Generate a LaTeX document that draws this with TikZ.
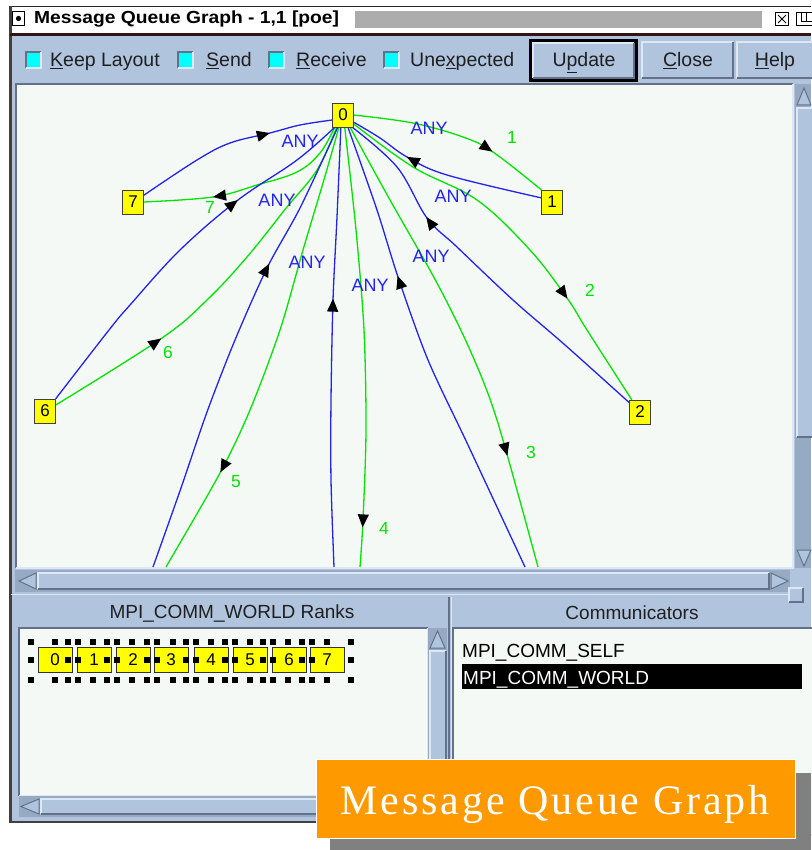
\documentclass[tikz,border=0pt]{standalone}
\usepackage{graphicx}
\usepackage{fontspec}
\setmainfont{Liberation Sans}
\newfontfamily\bannerfont[LetterSpace=7]{Liberation Serif}
\usetikzlibrary{arrows.meta,decorations.markings}

\definecolor{tbbg}{RGB}{176,196,222}
\definecolor{canvasbg}{RGB}{245,249,245}
\definecolor{edgeblue}{RGB}{35,35,235}
\definecolor{edgegreen}{RGB}{0,228,0}
\definecolor{rankyellow}{RGB}{255,255,0}
\definecolor{bevlight}{RGB}{222,232,244}
\definecolor{bevdark}{RGB}{98,114,136}
\definecolor{trough}{RGB}{150,170,196}
\definecolor{chkcyan}{RGB}{0,255,255}
\definecolor{titledark}{RGB}{50,20,20}
\definecolor{stipple}{RGB}{172,172,172}
\definecolor{bannerorange}{RGB}{255,153,0}
\definecolor{shadowgray}{RGB}{128,128,128}

\pgfdeclarelayer{chrome}
\pgfdeclarelayer{wires}
\pgfsetlayers{chrome,wires,main}

% raised and sunken Motif-style bevels: x1 y1 x2 y2
\newcommand\bevelraised[4]{%
  \fill[tbbg] (#1,#2) rectangle (#3,#4);
  \draw[bevlight,line width=1.6pt] (#1,#4) -- (#1,#2) -- (#3,#2);
  \draw[bevdark,line width=1.6pt] (#1,#4) -- (#3,#4) -- (#3,#2);
}
\newcommand\bevelsunken[4]{%
  \fill[canvasbg] (#1,#2) rectangle (#3,#4);
  \draw[bevdark,line width=2pt] (#1,#4) -- (#1,#2) -- (#3,#2);
  \draw[bevlight,line width=2pt] (#1,#4) -- (#3,#4) -- (#3,#2);
}

\begin{document}
\begin{tikzpicture}[x=1pt,y=-1pt,
  gnode/.style={draw=black!75, fill=rankyellow, minimum width=21pt, minimum height=24pt,
    inner sep=0pt, font=\fontsize{17}{17}\selectfont},
  rankbox/.style={draw=black!80, fill=rankyellow, minimum width=34pt, minimum height=25pt,
    inner sep=0pt, font=\fontsize{17}{17}\selectfont},
  anylab/.style={text=edgeblue, font=\fontsize{18}{18}\selectfont, inner sep=0pt},
  numlab/.style={text=edgegreen, font=\fontsize{17.5}{17.5}\selectfont, inner sep=0pt},
  bluedge/.style={draw=edgeblue, line width=1.3pt},
  greenedge/.style={draw=edgegreen, line width=1.3pt},
  midfwd/.style={postaction={decorate, decoration={markings, mark=at position #1 with
    {\arrow{Triangle[length=13pt,width=11pt,color=black]}}}}},
  midrev/.style={postaction={decorate, decoration={markings, mark=at position #1 with
    {\arrowreversed{Triangle[length=13pt,width=11pt,color=black]}}}}},
  tbtext/.style={font=\fontsize{19.5}{19.5}\selectfont, text=black!88, inner sep=0pt, anchor=base west},
  paneltitle/.style={font=\fontsize{19}{19}\selectfont, text=black!88, inner sep=0pt},
  listtext/.style={font=\fontsize{19}{19}\selectfont, text=black, inner sep=0pt, anchor=base west},
  handle/.style={fill=black}
]
\useasboundingbox (0,0) rectangle (811,850);

\begin{pgfonlayer}{chrome}
\fill[white] (0,0) rectangle (811,850);
% window body
\fill[tbbg] (10,36) rectangle (811,822);
% title bar
\draw[black!85, line width=1pt] (10,6.5) -- (811,6.5);
\fill[black!75] (9,6) rectangle (11.5,823);
\fill[titledark] (10,33.5) rectangle (811,36.5);
\draw[black, line width=1pt] (12.5,11.5) rectangle (24.5,25.5);
\fill[black] (18.5,18.5) circle (2.6pt);
\fill[stipple] (355,11) rectangle (762,28);
\draw[black, line width=0.9pt] (775.5,12.5) rectangle (788.5,25.5);
\draw[black, line width=0.9pt] (778,15) -- (786,23) (786,15) -- (778,23);
\draw[black, line width=0.9pt] (796.5,12.5) rectangle (815,25.5);
\draw[black, line width=0.9pt] (801,12.5) -- (801,21) -- (815,21) (806,12.5) -- (806,21);

% toolbar check boxes
\foreach \cx in {26,178,269,384}{
  \fill[chkcyan] (\cx,52) rectangle ++(15,16);
  \draw[bevdark,line width=1.5pt] (\cx,68) -- (\cx,52) -- (\cx+15,52);
  \draw[bevlight,line width=1.5pt] (\cx+15,52) -- (\cx+15,68) -- (\cx,68);
}
% buttons
\fill[black] (529,39) rectangle (638,82);
\bevelraised{533}{43}{634}{78}
\bevelraised{642}{42}{733}{78}
\bevelraised{737}{42}{822}{78}

% graph canvas
\bevelsunken{15.5}{84.5}{793}{568}
% vertical scrollbar
\fill[trough] (795,84) rectangle (811,568);
\bevelraised{797}{108}{813}{437}
\filldraw[fill=tbbg, draw=bevdark, line width=1pt] (797,105) -- (804,88) -- (811,105) -- cycle;
\filldraw[fill=tbbg, draw=bevdark, line width=1pt] (797,550) -- (811,550) -- (804,566) -- cycle;
% horizontal scrollbar
\fill[trough] (15,570) rectangle (790,592);
\filldraw[fill=tbbg, draw=bevdark, line width=1pt] (36,573) -- (19,581) -- (36,589) -- cycle;
\bevelraised{38}{573}{769}{589}
\filldraw[fill=tbbg, draw=bevdark, line width=1pt] (771,573) -- (788,581) -- (771,589) -- cycle;
\bevelraised{789}{588}{803}{602}

% lower panes
\draw[bevlight, line width=1pt] (11,594.5) -- (789,594.5);
\draw[bevdark, line width=1.5pt] (449,597) -- (449,822);
\draw[bevlight, line width=1.5pt] (451.5,597) -- (451.5,822);
% ranks list
\bevelsunken{19}{628}{428}{796}
\fill[trough] (428,628) rectangle (447,796);
\filldraw[fill=tbbg, draw=bevdark, line width=1pt] (430,648) -- (437.5,631) -- (445,648) -- cycle;
\bevelraised{430}{651}{446}{794}
\fill[trough] (19,796) rectangle (428,817);
\filldraw[fill=tbbg, draw=bevdark, line width=1pt] (39,799) -- (21,806.5) -- (39,814) -- cycle;
\bevelraised{41}{799}{421}{814}
\fill[black!75] (9,820.5) rectangle (340,823);
% communicators list
\bevelsunken{453}{628}{815}{835}
\fill[black] (462,664) rectangle (802,689);
\end{pgfonlayer}

% toolbar labels
\node[tbtext] (keep) at (50,67) {\underline{K}eep Layout};
\node[tbtext] (send) at (206,67) {\underline{S}end};
\node[tbtext] (recv) at (296,67) {\underline{R}eceive};
\node[tbtext] (unex) at (410,67) {Une\underline{x}pected};
\node[tbtext, anchor=base] (upd) at (584,67) {U\underline{p}date};
\node[tbtext, anchor=base] (cls) at (688,67) {\underline{C}lose};
\node[tbtext, anchor=base] (hlp) at (775,67) {\underline{H}elp};
\node[anchor=west, inner sep=0pt, font=\fontsize{17.5}{17.5}\selectfont\bfseries] (wtitle) at (34,19.5)
  {\scalebox{1.1}[1]{Message Queue Graph - 1,1 [poe]}};

% graph nodes
\node[gnode] (n0) at (343,115) {0};
\node[gnode] (n7) at (133,202) {7};
\node[gnode] (n1) at (552,202) {1};
\node[gnode] (n6) at (45,411) {6};
\node[gnode] (n2) at (640,412) {2};
\coordinate (b5end) at (153,567);
\coordinate (g5end) at (166,567);
\coordinate (b4end) at (334,567);
\coordinate (g4end) at (360,567);
\coordinate (b3end) at (525,567);
\coordinate (g3end) at (538,567);

\begin{pgfonlayer}{wires}
\begin{scope}
\clip (17,86) rectangle (792,567);
% receives (blue) and sends (green) between rank 0 and the others
\draw[bluedge, midrev=0.31] plot[smooth, tension=0.6] coordinates
  {(n0.205) (300,125) (270,133) (230,143) (197,160) (n7.32)};
\draw[greenedge, midfwd=0.68] plot[smooth, tension=0.6] coordinates
  {(n0.236) (320,153) (297,172) (257,185) (213,197) (n7.east)};
\draw[bluedge, midrev=0.31] plot[smooth, tension=0.6] coordinates
  {(n0.236) (297,160) (238,200) (180,250) (130,305) (109,330) (n6.north east)};
\draw[greenedge, midrev=0.69] plot[smooth, tension=0.6] coordinates
  {(n0.243) (317,170) (287,207) (247,257) (207,300) (162,338) (n6.29)};
\draw[bluedge, midrev=0.32] plot[smooth, tension=0.5] coordinates
  {(n0.247) (300,208) (267,268) (235,340) (207,412) (181,488) (b5end)};
\draw[greenedge, midfwd=0.77] plot[smooth, tension=0.5] coordinates
  {(n0.252) (323,183) (303,250) (280,330) (250,410) (220,473) (g5end)};
\draw[bluedge, midrev=0.39] plot[smooth, tension=0.5] coordinates
  {(n0.260) (337,217) (333,300) (331,400) (331,480) (b4end)};
\draw[greenedge, midfwd=0.91] plot[smooth, tension=0.5] coordinates
  {(n0.278) (356,230) (364,330) (366,430) (363,520) (g4end)};
\draw[bluedge, midrev=0.33] plot[smooth, tension=0.5] coordinates
  {(n0.292) (377,210) (398,277) (428,360) (468,445) (b3end)};
\draw[greenedge, midfwd=0.76] plot[smooth, tension=0.5] coordinates
  {(n0.300) (390,200) (437,283) (470,350) (497,420) (g3end)};
\draw[bluedge, midrev=0.30] plot[smooth, tension=0.6] coordinates
  {(n0.307) (397,167) (427,218) (457,247) (513,300) (565,345) (n2.139)};
\draw[greenedge, midfwd=0.70] plot[smooth, tension=0.6] coordinates
  {(n0.320) (413,167) (477,200) (530,250) (567,298) (587,330) (n2.124)};
\draw[bluedge, midrev=0.31] plot[smooth, tension=0.6] coordinates
  {(n0.326) (380,138) (407,157) (447,175) (n1.159)};
\draw[greenedge, midfwd=0.70] plot[smooth, tension=0.6] coordinates
  {(n0.east) (413,123) (463,137) (493,152) (n1.north west)};
\end{scope}
\end{pgfonlayer}

% edge labels
\node[anylab] (a7) at (300,141) {ANY};
\node[anylab] (a6) at (277,200) {ANY};
\node[anylab] (a5) at (307,262) {ANY};
\node[anylab] (a4) at (370,285) {ANY};
\node[anylab] (a3) at (431,256) {ANY};
\node[anylab] (a2) at (453,196) {ANY};
\node[anylab] (a1) at (429,128) {ANY};
\node[numlab] (l1) at (512,137) {1};
\node[numlab] (l2) at (590,290) {2};
\node[numlab] (l3) at (531,452) {3};
\node[numlab] (l4) at (384,528) {4};
\node[numlab] (l5) at (236,482) {5};
\node[numlab] (l6) at (168,352) {6};
\node[numlab] (l7) at (210,207) {7};

% lower pane contents
\node[paneltitle] (ranktitle) at (232,613) {MPI\_COMM\_WORLD Ranks};
\node[paneltitle] (commtitle) at (632,613) {Communicators};
\foreach \i/\lx in {0/38,1/77,2/116,3/154,4/194,5/233,6/272,7/310}{
  \node[rankbox, anchor=west] (r\i) at (\lx,659.5) {\i};
}
\foreach \hx in {31,55,68,78,93,107,117,132,147,157,173,186,196,211,225,235,250,263,273,288,302,312,327,351}{
  \fill[handle] (\hx-3,638.5) rectangle (\hx+3,644.5);
  \fill[handle] (\hx-3,677) rectangle (\hx+3,683);
}
\foreach \hx in {31,68,78,107,117,147,157,186,196,225,235,263,273,302,312,351}{
  \fill[handle] (\hx-3,657) rectangle (\hx+3,663);
}
\node[listtext] (cself) at (462,657) {MPI\_COMM\_SELF};
\node[listtext, text=white] (cworld) at (463,684) {MPI\_COMM\_WORLD};

% caption banner
\fill[shadowgray] (330,773) rectangle (811,850);
\filldraw[fill=bannerorange, draw=white, line width=1pt] (316,759) rectangle (795,838);
\node[text=white, inner sep=0pt, anchor=base, font=\bannerfont\fontsize{42}{42}\selectfont] (banner) at (555,814) {Message Queue Graph};
\end{tikzpicture}
\end{document}
